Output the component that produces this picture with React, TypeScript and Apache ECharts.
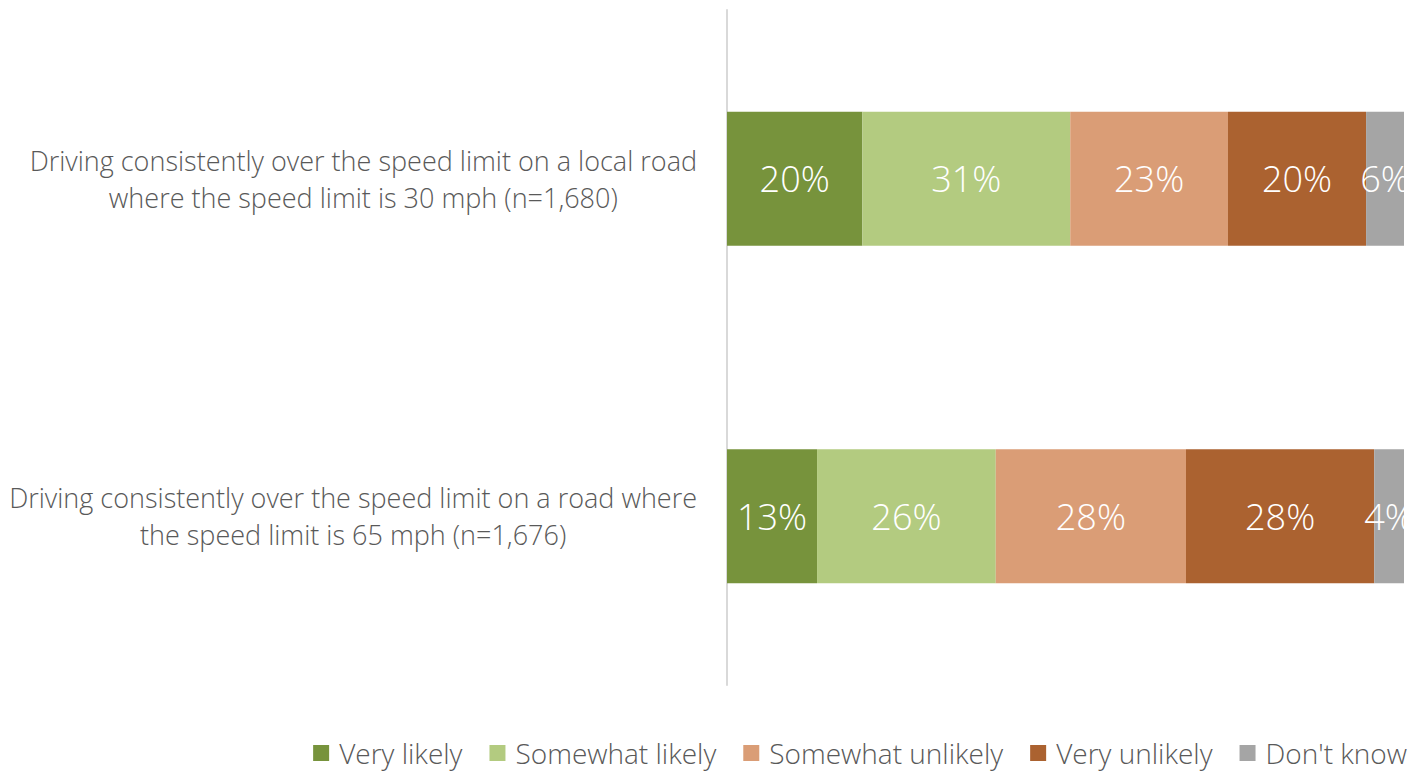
import React, { useEffect, useRef } from "react";
import * as echarts from "echarts";

const categories = [
  "Driving consistently over the speed limit on a local road\nwhere the speed limit is 30 mph (n=1,680)",
  "Driving consistently over the speed limit on a road where\nthe speed limit is 65 mph (n=1,676)",
];
const seriesNames = ["Very likely", "Somewhat likely", "Somewhat unlikely", "Very unlikely", "Don't know"];
const veryLikely = [20.0, 13.3];
const somewhatLikely = [30.7, 26.4];
const somewhatUnlikely = [23.3, 28.1];
const veryUnlikely = [20.4, 27.8];
const dontKnow = [5.6, 4.4];
const shownLabels = [
  ["20%", "13%"],
  ["31%", "26%"],
  ["23%", "28%"],
  ["20%", "28%"],
  ["6%", "4%"],
];
const colors = ["#77933c", "#b3cb80", "#da9d76", "#ab6230", "#a5a5a5"];

const FONT = "'Open Sans', 'Noto Sans', sans-serif";

export default function App() {
  const ref = useRef<HTMLDivElement>(null);
  useEffect(() => {
    document.body.style.margin = "0";
    if (!ref.current) return;
    const chart = echarts.init(ref.current, undefined, { renderer: "svg" });
    const values = [veryLikely, somewhatLikely, somewhatUnlikely, veryUnlikely, dontKnow];
    chart.setOption({
      animation: false,
      textStyle: { fontFamily: FONT },
      grid: { left: 727, right: 10, top: 10, bottom: 89, containLabel: false },
      legend: {
        top: 733,
        right: 2,
        itemWidth: 16,
        itemHeight: 16,
        itemGap: 27,
        icon: "rect",
        textStyle: {
          color: "#595959",
          fontSize: 28,
          fontWeight: 300,
          lineHeight: 30,
          fontFamily: FONT,
          padding: [0, 0, 0, 5],
        },
        data: seriesNames,
      },
      xAxis: {
        type: "value",
        min: 0,
        max: 100,
        show: false,
      },
      yAxis: {
        type: "category",
        inverse: true,
        data: categories,
        axisLine: { show: true, lineStyle: { color: "#d9d9d9", width: 2 } },
        axisTick: { show: false },
        axisLabel: {
          margin: 30,
          color: "#595959",
          fontSize: 27,
          fontWeight: 300,
          lineHeight: 37,
          fontFamily: FONT,
          formatter: (v: string) =>
            v
              .split("\n")
              .map((l) => `{c|${l}}`)
              .join("\n"),
          rich: {
            c: {
              align: "center",
              color: "#595959",
              fontSize: 27,
              fontWeight: 300,
              lineHeight: 37,
              fontFamily: FONT,
            },
          },
        },
      },
      series: seriesNames.map((name, i) => ({
        name,
        type: "bar",
        stack: "total",
        barWidth: 134,
        itemStyle: { color: colors[i] },
        label: {
          show: true,
          position: "inside",
          color: "#ffffff",
          fontSize: 36,
          fontWeight: 300,
          fontFamily: FONT,
          overflow: "none",
          formatter: (p: any) => shownLabels[i][p.dataIndex],
        },
        data: values[i],
      })),
    });
    return () => chart.dispose();
  }, []);
  return <div ref={ref} style={{ width: 1414, height: 774 }} />;
}
